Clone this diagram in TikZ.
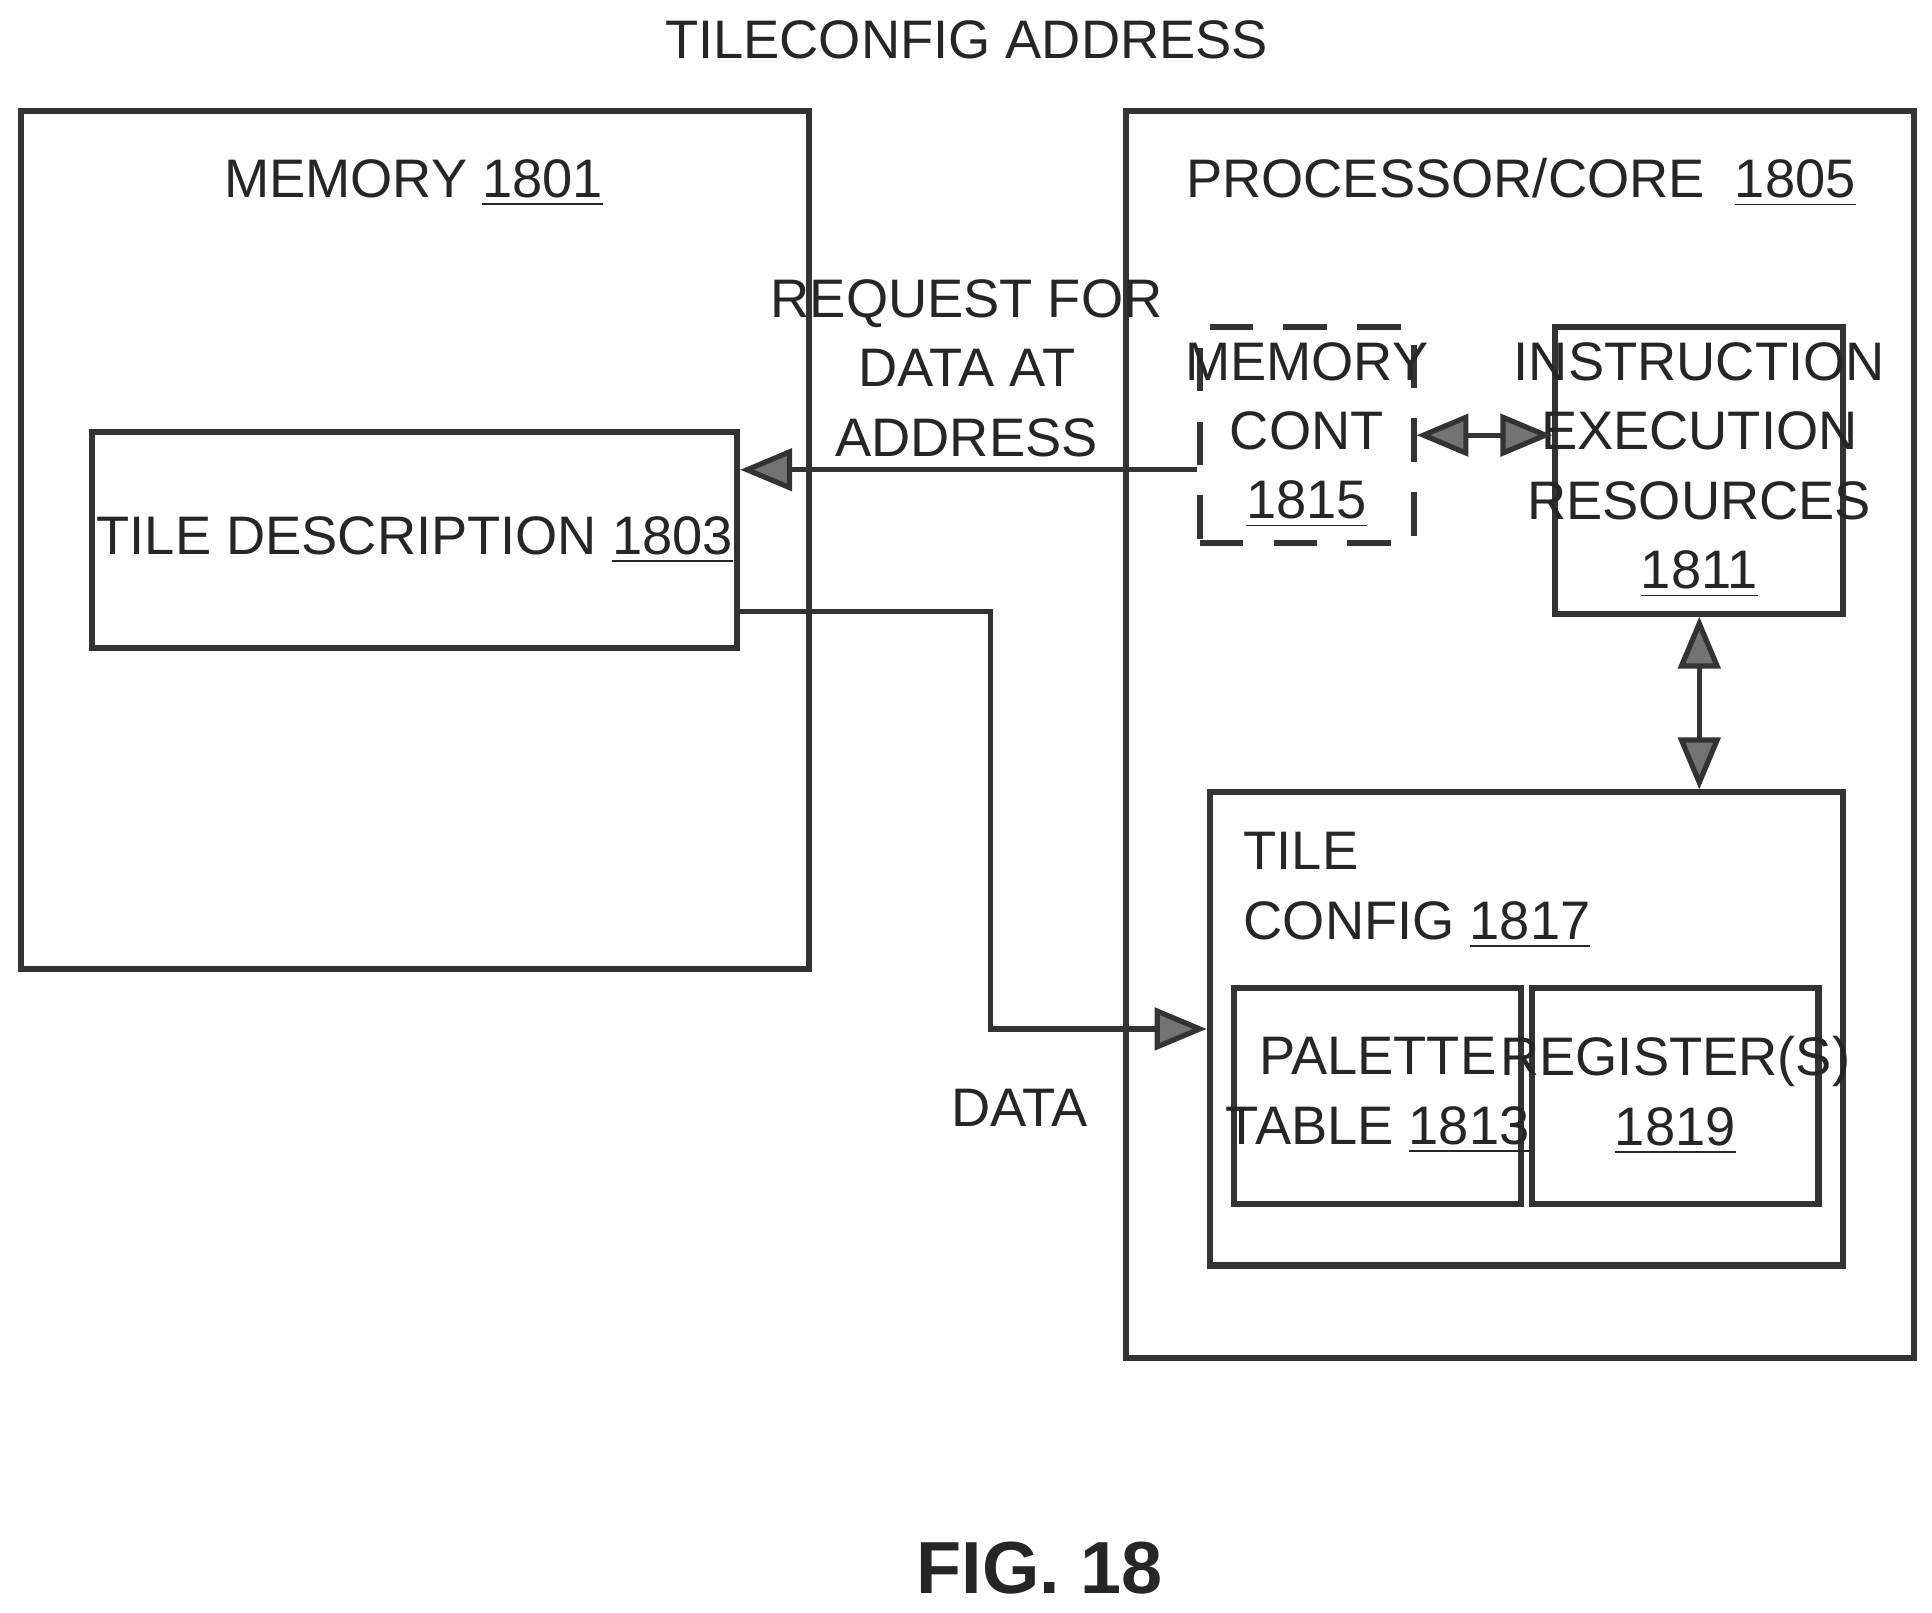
\documentclass[tikz,border=0pt]{standalone}
\usepackage{fontspec}
\setmainfont{Liberation Sans}
\usetikzlibrary{arrows.meta,positioning}
\tikzset{
  box/.style={draw, line width=1.4pt, color=black!80, inner sep=0pt},
  lbl/.style={font=\fontsize{12.5}{16}\selectfont, text=black!85, align=center},
  arr/.style={line width=1.2pt, black!80, -{Triangle[length=0.42cm,width=0.34cm,fill=black!55]}},
  darr/.style={line width=1.2pt, black!80, {Triangle[length=0.42cm,width=0.34cm,fill=black!55]}-{Triangle[length=0.42cm,width=0.34cm,fill=black!55]}}
}
\begin{document}
\begin{tikzpicture}[x=0.01cm,y=-0.01cm]
  \useasboundingbox (0,0) rectangle (1565,1306);
  % boxes
  \node[box, minimum width=6.38cm, minimum height=6.95cm] (mem) at (336,437.5) {};
  \node[box, minimum width=5.22cm, minimum height=1.75cm] (td) at (336,437.5) {};
  \node[box, minimum width=6.38cm, minimum height=10.1cm] (proc) at (1231,595) {};
  \node[box, dashed, dash pattern=on 10pt off 7pt, minimum width=1.73cm, minimum height=1.75cm] (mc) at (1058.5,352.5) {};
  \node[box, minimum width=2.33cm, minimum height=2.32cm] (ie) at (1376.5,381) {};
  \node[box, minimum width=5.13cm, minimum height=3.83cm] (tc) at (1236.5,833.5) {};
  \node[box, minimum width=2.32cm, minimum height=1.75cm] (pt) at (1116,887.5) {};
  \node[box, minimum width=2.32cm, minimum height=1.75cm] (rg) at (1357,887.5) {};
  % texts
  \node[lbl] (tca) at (783,32) {TILECONFIG ADDRESS};
  \node[lbl] (memt) at (335,148) {MEMORY \underline{1801}};
  \node[lbl] (tdt) at (td) {TILE DESCRIPTION \underline{1803}};
  \node[lbl] (proct) at (1232,148) {PROCESSOR/CORE\ \ \underline{1805}};
  \node[lbl] (mct) at (mc) {MEMORY\\CONT\\\underline{1815}};
  \node[lbl] (iet) at (ie) {INSTRUCTION\\EXECUTION\\RESOURCES\\\underline{1811}};
  \node[lbl, align=left, anchor=north west] (tct) at (995,662) {TILE\\CONFIG \underline{1817}};
  \node[lbl] (ptt) at (pt) {PALETTE\\TABLE \underline{1813}};
  \node[lbl] (rgt) at (rg) {REGISTER(S)\\\underline{1819}};
  \node[lbl] (req) at (783,298) {REQUEST FOR\\DATA AT\\ADDRESS};
  \node[lbl] (dat) at (826,897) {DATA};
  \node[font=\bfseries\fontsize{17}{20}\selectfont, text=black!85] (fig) at (842,1270) {FIG. 18};
  % connectors
  \draw[arr] ([yshift=-0.28cm]mc.west) -- ([yshift=-0.28cm]mc.west -| td.east);
  \draw[darr] (mc.east) -- (mc.east -| ie.west);
  \draw[darr] (ie.south) -- (ie.south |- tc.north);
  \draw[arr] ([yshift=-0.575cm]td.east) -| ([xshift=-1.75cm]tc.west) -- (tc.west);
\end{tikzpicture}
\end{document}
